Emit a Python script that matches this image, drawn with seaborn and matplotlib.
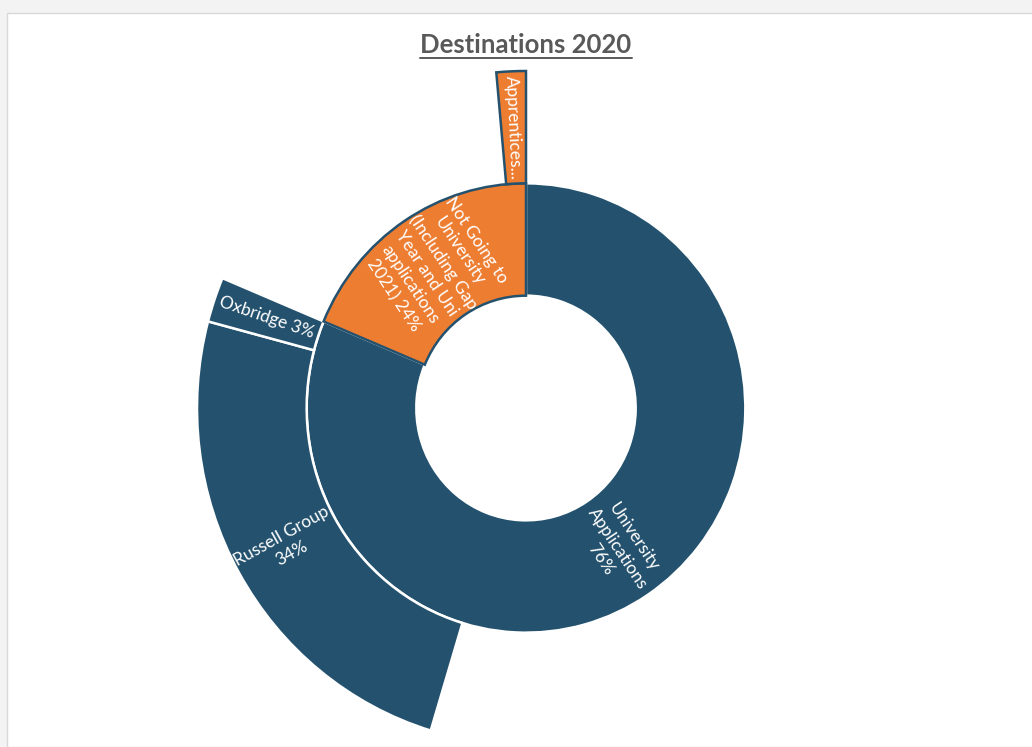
import numpy as np
import matplotlib.pyplot as plt
import matplotlib.patches as mpatches
from matplotlib.lines import Line2D
import seaborn as sns

# data: inner ring = top level, outer ring = children; each parent also keeps its own
# share, which shows up as an empty gap in the outer ring (like Excel's sunburst)
parents = ['University Applications',
           'Not Going to University (Including Gap Year and Uni applications 2021)']
parent_labels = ['University\nApplications\n76%',
                 'Not Going to\nUniversity\n(Including Gap\nYear and Uni\napplications\n2021) 24%']
parent_own = [76, 24]

children = ['Russell Group', 'Oxbridge', 'Apprentices']
child_parent = [0, 0, 1]
child_values = [34, 3, 2]
child_labels = ['Russell Group\n34%', 'Oxbridge 3%', 'Apprentices...']

blue = '#24526e'
orange = '#ed7d31'
parent_colors = [blue, orange]

sns.set_theme(style='white')
plt.rcParams['font.family'] = ['Lato', 'DejaVu Sans']

W, H = 1032, 747
fig = plt.figure(figsize=(W / 100, H / 100), dpi=100, facecolor='#f3f3f3')
fig.patches.append(mpatches.Rectangle((7 / W, 0), 1, 1 - 13 / H, transform=fig.transFigure,
                                      facecolor='white', edgecolor='#d9d9d9', lw=1, zorder=-5))

# axes box so that pie radius 1 == outer ring; the original is a touch taller than wide
RX, RY = 329, 337
cx, cy = 526, 408
ax = fig.add_axes([(cx - RX) / W, (H - cy - RY) / H, 2 * RX / W, 2 * RY / H])
ax.patch.set_visible(False)

# build both rings
inner_vals = [parent_own[i] + sum(v for v, p in zip(child_values, child_parent) if p == i)
              for i in range(len(parents))]
outer_vals, outer_cols, outer_lbls, outer_show = [], [], [], []
for i in range(len(parents)):
    outer_vals.append(parent_own[i]); outer_cols.append('none')
    outer_lbls.append(''); outer_show.append(False)
    for v, p, lb in zip(child_values, child_parent, child_labels):
        if p == i:
            outer_vals.append(v); outer_cols.append(parent_colors[p])
            outer_lbls.append(lb); outer_show.append(True)

wedges_in, _ = ax.pie(inner_vals, radius=2 / 3, startangle=90, counterclock=False,
                      colors=parent_colors, wedgeprops=dict(width=1 / 3, linewidth=1.8))
wedges_out, _ = ax.pie(outer_vals, radius=1, startangle=90, counterclock=False,
                       colors=[c if c != 'none' else 'white' for c in outer_cols],
                       wedgeprops=dict(width=1 / 3, linewidth=1.8))

for w, c in zip(wedges_in, parent_colors):
    w.set_edgecolor('white' if c == blue else blue)
    w.set_zorder(3 if c == orange else 1)
    w.set_clip_on(False)
for w, c, show in zip(wedges_out, outer_cols, outer_show):
    w.set_visible(show)
    w.set_edgecolor('white' if c == blue else blue)
    w.set_zorder(3 if c == orange else 1)
    w.set_clip_on(False)


def put_labels(vals, labels, r):
    total = sum(vals)
    cum = 0
    for v, lb in zip(vals, labels):
        mid = 90 - 360 * (cum + v / 2) / total
        cum += v
        if not lb:
            continue
        rot = (mid + 180) % 360 - 180
        if abs(rot) > 90:
            rot = rot - 180 if rot > 0 else rot + 180
        t = np.deg2rad(mid)
        ax.text(r * np.cos(t), r * np.sin(t), lb, ha='center', va='center', rotation=rot,
                rotation_mode='anchor', color='white', fontsize=12.5, linespacing=1.3,
                multialignment='center', zorder=5)


put_labels(inner_vals, parent_labels, 0.5)
put_labels(outer_vals, outer_lbls, 5 / 6)

ax.set_xlim(-1, 1)
ax.set_ylim(-1, 1)
ax.set_aspect('auto')
ax.axis('off')

# underlined title
title = fig.text(cx / W, 1 - 45 / H, 'Destinations 2020', ha='center', va='center',
                 fontsize=18.5, fontweight='bold', color='#595959')
fig.canvas.draw()
bb = title.get_window_extent().transformed(fig.transFigure.inverted())
fig.lines.append(Line2D([bb.x0, bb.x1], [1 - 57.5 / H] * 2, transform=fig.transFigure,
                        color='#595959', lw=1.4))

fig.savefig('out.png', dpi=100, facecolor=fig.get_facecolor())
